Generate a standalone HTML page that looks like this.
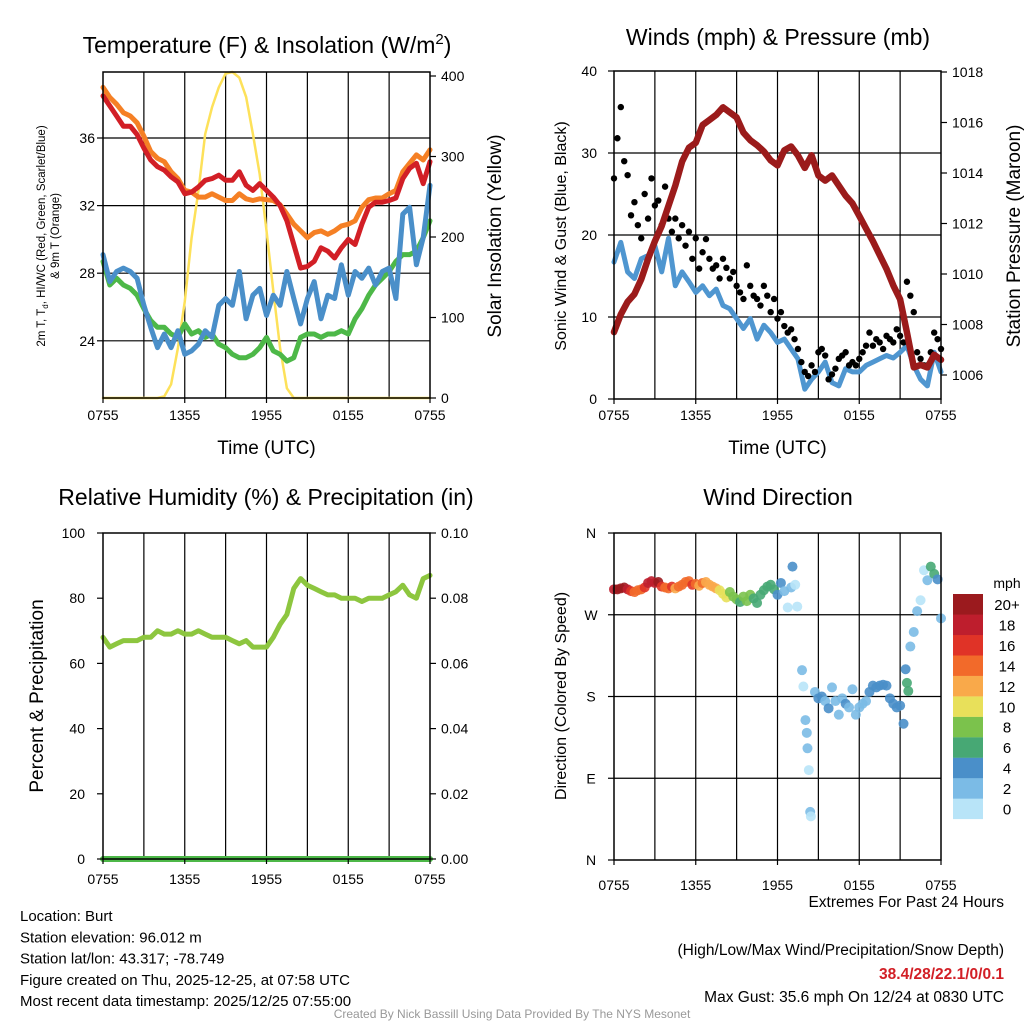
<!DOCTYPE html>
<html><head><meta charset="utf-8"><style>
html,body{margin:0;padding:0;background:#fff;}
svg{display:block;font-family:"Liberation Sans",sans-serif;}
</style></head><body>
<svg id="chart" width="1024" height="1024" viewBox="0 0 1024 1024" xmlns="http://www.w3.org/2000/svg">
<rect x="0" y="0" width="1024" height="1024" fill="#fff"/>
</svg>
<script>
// ---- data (hours since 0755 UTC) ----
const halfHours = [0,0.5,1,1.5,2,2.5,3,3.5,4,4.5,5,5.5,6,6.5,7,7.5,8,8.5,9,9.5,10,10.5,11,11.5,12,12.5,13,13.5,14,14.5,15,15.5,16,16.5,17,17.5,18,18.5,19,19.5,20,20.5,21,21.5,22,22.5,23,23.5,24];
const tempRed = [38.5,37.9,37.3,36.7,36.7,36.2,35.4,34.7,34.3,34.1,33.7,33.4,32.7,32.8,33.1,33.5,33.6,33.8,33.5,33.5,34.0,33.2,32.9,33.3,32.9,32.5,32.0,31.1,29.7,28.3,28.4,28.7,29.5,29.3,28.9,29.5,30.0,29.7,30.9,31.9,32.2,32.2,32.3,32.45,33.6,34.2,34.5,33.3,34.6];
const tempOrange = [39.0,38.4,38.0,37.5,37.3,36.9,36.1,35.2,34.8,34.6,34.0,33.6,32.9,32.8,32.5,32.5,32.7,32.5,32.3,32.3,32.7,32.4,32.3,32.4,32.35,32.3,32.05,31.5,30.9,30.5,30.1,30.4,30.5,30.3,30.5,30.8,30.9,31.1,31.9,32.35,32.45,32.45,32.7,32.9,34.0,34.5,35.0,34.7,35.3];
const tempBlue = [29.1,27.5,28.1,28.3,28.1,27.7,26.1,24.8,23.6,24.4,23.6,24.6,23.2,23.4,23.8,24.6,24.2,26.1,26.5,26.1,28.1,25.3,26.7,27.1,25.5,26.7,26.1,28.1,26.5,25.0,26.5,27.5,25.3,26.7,26.5,28.5,26.7,28.1,27.7,28.3,27.3,28.1,28.3,26.5,31.5,31.9,28.5,30.1,33.2];
const tempGreen = [28.7,27.3,27.7,27.3,27.1,26.7,25.9,25.2,24.8,24.8,24.4,24.2,25.0,24.4,24.6,24.2,24.4,23.8,23.6,23.2,23.0,23.0,23.2,23.6,24.2,23.4,23.2,22.8,23.0,24.2,24.4,24.4,24.2,24.4,24.4,24.6,24.4,25.3,25.9,26.7,27.3,27.7,28.1,28.7,29.1,29.1,29.3,30.1,31.1];
const solar = [0,0,0,0,0,0,0,0,0,2,17,62,120,199,257,328,361,386,403,405,398,374,328,278,208,133,62,12,0,0,0,0,0,0,0,0,0,0,0,0,0,0,0,0,0,0,0,0,0];
const pressure = [1007.7,1008.4,1008.9,1009.2,1009.8,1010.6,1011.3,1011.9,1012.7,1013.5,1014.45,1015.0,1015.2,1015.9,1016.1,1016.3,1016.6,1016.4,1016.2,1015.6,1015.3,1015.1,1014.85,1014.5,1014.3,1014.9,1015.05,1014.7,1014.2,1014.7,1013.9,1013.7,1013.9,1013.5,1013.1,1012.8,1012.3,1011.8,1011.3,1010.75,1010.2,1009.55,1009.0,1007.7,1006.3,1006.4,1006.3,1006.8,1006.6];
const sonicWind = [16.7,19.1,15.5,14.7,17.1,17.5,18.7,15.5,19.6,13.8,15.5,14.3,13.0,13.8,12.6,13.4,11.4,11.0,9.8,8.6,9.8,7.3,9.0,8.1,6.9,7.3,6.1,4.9,1.2,2.4,3.3,4.5,2.0,1.6,3.7,3.3,3.3,4.1,4.5,4.9,5.3,5.0,5.7,6.5,4.1,2.4,1.6,5.7,3.3];
const gustStep = 0.25;
const gust = [26.9,31.8,35.6,29.0,27.3,
22.4,24.0,21.2,19.6,25.0,22.0,26.9,
23.6,24.2,21.2,25.9,22.0,20.4,22.0,19.6,
21.2,18.7,20.4,17.1,19.6,15.9,17.9,19.5,
17.1,15.9,16.3,14.7,17.1,16.0,14.7,15.5,
13.8,13.0,12.2,16.3,13.8,12.6,12.2,11.4,
13.8,12.6,10.6,12.2,9.8,10.6,8.9,8.1,
8.5,7.3,6.1,4.5,3.3,2.8,4.1,3.3,
5.7,6.1,5.3,2.4,3.0,3.7,4.9,5.3,
5.7,4.1,4.5,4.1,4.9,5.7,6.5,8.1,
6.5,7.3,6.9,6.1,7.7,7.3,6.9,8.5,
7.7,6.9,14.3,12.6,10.6,5.7,4.9,4.1,
4.1,5.7,8.1,7.3,6.1];
const humidity = [68,65,66,67,67,67,68,68,70,69,69,70,69,69,70,69,68,68,68,67,66,67,65,65,65,68,72,75,83,86,84,83,82,81,81,80,80,80,79,80,80,80,81,82,84,81,80,86,87];
const precip = [0,0,0,0,0,0,0,0,0,0,0,0,0,0,0,0,0,0,0,0,0,0,0,0,0,0,0,0,0,0,0,0,0,0,0,0,0,0,0,0,0,0,0,0,0,0,0,0,0];
const dirHours = [0,0.25,0.5,0.75,1,1.25,1.5,1.75,2,2.25,2.5,2.75,3,3.25,3.5,3.75,4,4.25,4.5,4.75,5,5.25,5.5,5.75,6,6.25,6.5,6.75,7,7.25,7.5,7.75,8,8.25,8.5,8.75,9,9.25,9.5,9.75,10,10.25,10.5,10.75,11,11.25,11.5,11.75,12,12.25,12.5,12.75,13,13.1,13.3,13.45,13.8,13.9,14.05,14.15,14.2,14.3,14.4,14.45,14.75,15,15.25,15.5,15.75,16,16.25,16.5,16.75,17,17.25,17.5,17.75,18,18.25,18.5,18.75,19,19.25,19.5,19.75,20,20.25,20.5,20.75,21,21.25,21.4,21.5,21.6,21.75,22,22.25,22.5,22.75,23,23.25,23.5,23.75,24];
const dirDeg = [298,298,299,300,298,296,295,297,298,300,305,307,305,306,301,300,299,301,299,301,303,306,307,303,304,302,305,306,303,301,299,297,293,289,295,290,287,284,290,285,292,288,283,292,297,301,303,298,292,305,296,278,300,323,303,279,209,191,154,140,123,99,53,48,185,178,180,175,167,190,175,160,178,172,168,188,160,168,172,175,185,192,190,192,193,192,178,172,168,170,150,210,195,186,235,251,274,286,319,308,323,315,309,266];
const dirSpeed = [19,20,21,21,18,16,14,14,14,16,18,19,18,20,17,15,14,16,13,14,15,15,14,17,15,13,14,12,12,12,12,11,10,10,9,8,8,7,8,8,9,7,6,7,7,6,6,6,5,4,3,1,2,4,1,1,2,1,2,2,2,1,2,1,3,4,4,3,4,2,3,2,2,4,3,2,3,2,2,3,4,4,4,4,4,4,4,4,4,4,4,4,6,6,2,2,2,1,1,2,6,6,4,2];
const speedBins = ["0","2","4","6","8","10","12","14","16","18","20+"];
const timeTicks = ["0755","1355","1955","0155","0755"];
const tempTicks = [24,28,32,36];
const solarTicks = [0,100,200,300,400];
const windTicks = [0,10,20,30,40];
const pressTicks = [1006,1008,1010,1012,1014,1016,1018];
const rhTicks = [0,20,40,60,80,100];
const prTicks = ["0.00","0.02","0.04","0.06","0.08","0.10"];
const dirTicks = ["N","E","S","W","N"];

const binColors = ["#b8e4f8","#7bbbe6","#4a8fc9","#47a874","#7bc24c","#e8e05a","#f9a94a","#f26a2a","#e03327","#be1e2d","#9b1a1e"];

const NS = "http://www.w3.org/2000/svg";
const svg = document.getElementById("chart");
function el(tag, attrs, parent){
  const e = document.createElementNS(NS, tag);
  for (const k in attrs) e.setAttribute(k, attrs[k]);
  (parent||svg).appendChild(e);
  return e;
}
function txt(x,y,s,size,anchor,parent,extra){
  const t = el("text",Object.assign({x:x,y:y,"font-size":size,"text-anchor":anchor||"start",fill:"#000"},extra||{}),parent);
  t.textContent = s;
  return t;
}
function xScale(p){ return h => p.x0 + h/24*(p.x1-p.x0); }

const P1={x0:103,x1:430,y0:72,y1:398};
const P2={x0:614,x1:941,y0:71,y1:399};
const P3={x0:103,x1:430,y0:533,y1:859};
const P4={x0:614,x1:941,y0:533,y1:860};
const yT = v => 138 + (36-v)*16.9;
const yS = v => 398 - v*0.805;
const yW = v => 399 - v*8.2;
const yP = p => 375 - (p-1006)*25.25;
const yRH = v => 859 - v*3.26;
const yPR = v => 859 - v*3260;
const yD = d => 860 - d*0.9083;

function frame(p, name, hlines){
  const g = el("g",{});
  
  
  const xs = xScale(p);
  for(let h=3;h<24;h+=3){
    const l = el("line",{x1:xs(h),x2:xs(h),y1:p.y0,y2:p.y1,stroke:"#000","stroke-width":1.2},g);
    
    
  }
  hlines.forEach(y=>{
    const l = el("line",{x1:p.x0,x2:p.x1,y1:y,y2:y,stroke:"#000","stroke-width":1.2},g);
    
    
  });
  return g;
}
function border(p,name){
  const r = el("rect",{x:p.x0,y:p.y0,width:p.x1-p.x0,height:p.y1-p.y0,fill:"none",stroke:"#000","stroke-width":1.5});
  
  
}
function xAxis(p,name,labelY,title){
  const g = el("g",{});
  
  
  const xs = xScale(p);
  timeTicks.forEach((s,i)=>{
    el("line",{x1:xs(i*6),x2:xs(i*6),y1:p.y1,y2:p.y1+5,stroke:"#000","stroke-width":1.2},g);
    const t = txt(xs(i*6),labelY,s,14,"middle",g);
    
    
  });
  if(title){
    const t = txt((p.x0+p.x1)/2,labelY+34,title,19,"middle",g);
    
    
  }
}
function yTicks(vals, labels, yf, x, anchor, tickX, dir, name){
  const g = el("g",{});
  
  
  vals.forEach((v,i)=>{
    const y = yf(v);
    el("line",{x1:tickX,x2:tickX+dir*6,y1:y,y2:y,stroke:"#000","stroke-width":1.2},g);
    const t = txt(x,y+5,labels[i],14,anchor,g);
    
    
  });
}
function line(xs, ys, p, yf, color, w, name){
  const d = xs.map((h,i)=>(i?"L":"M")+xScale(p)(h).toFixed(1)+","+yf(ys[i]).toFixed(1)).join(" ");
  const path = el("path",{d:d,fill:"none",stroke:color,"stroke-width":w,"stroke-linejoin":"round","stroke-linecap":"round"});
  
  
}
function rotText(x,y,s,size,name){
  const t = txt(0,0,s,size,"middle",null,{transform:"translate("+x+","+y+") rotate(-90)"});
  
  
  return t;
}
function title(x,y,s,name){
  const t = txt(x,y,s,23,"middle");
  
  
  return t;
}

// ===== Panel 1: Temperature =====
frame(P1,"temperature",tempTicks.map(yT));
line(halfHours, solar, P1, yS, "#fde15a", 2.5, "solar-insolation-line");
line(halfHours, tempGreen, P1, yT, "#4db848", 5, "dewpoint-line");
line(halfHours, tempBlue, P1, yT, "#4a8fc9", 5, "wind-chill-line");
line(halfHours, tempOrange, P1, yT, "#f58025", 5, "temp-9m-line");
line(halfHours, tempRed, P1, yT, "#d21f26", 5, "temp-2m-line");
border(P1,"temperature");
xAxis(P1,"temperature",420,"Time (UTC)");
yTicks(tempTicks, tempTicks.map(String), yT, 95, "end", P1.x0, -1, "temperature-y-axis");
yTicks(solarTicks, solarTicks.map(String), yS, 441, "start", P1.x1, 1, "solar-y-axis");
const t1 = title(267,53,"","temperature-title");
t1.innerHTML = 'Temperature (F) &amp; Insolation (W/m<tspan font-size="15" dy="-9">2</tspan><tspan dy="9">)</tspan>';
const yl1 = rotText(45,236,"",11.5,"temperature-y-axis-title");
yl1.innerHTML = '2m T, T<tspan font-size="8" dy="3">d</tspan><tspan dy="-3">, HI/WC (Red, Green, Scarlet/Blue)</tspan>';
rotText(59,236,"& 9m T (Orange)",11.5,"temperature-y-axis-title-2");
rotText(501,236,"Solar Insolation (Yellow)",19,"solar-y-axis-title");

// ===== Panel 2: Winds =====
frame(P2,"winds",windTicks.slice(1,4).map(yW));
line(halfHours, sonicWind, P2, yW, "#4f96d0", 5, "sonic-wind-line");
const gg = el("g",{});


gust.forEach((v,i)=>{
  const c = el("circle",{cx:xScale(P2)(i*gustStep),cy:yW(v),r:3.2,fill:"#000"},gg);
  
  
});
line(halfHours, pressure, P2, yP, "#9b1b1b", 6.5, "pressure-line");
border(P2,"winds");
xAxis(P2,"winds",420,"Time (UTC)");
yTicks(windTicks, windTicks.map(String), yW, 597, "end", P2.x0, -1, "wind-y-axis");
yTicks(pressTicks, pressTicks.map(String), yP, 952, "start", P2.x1, 1, "pressure-y-axis");
title(778,45,"Winds (mph) & Pressure (mb)","winds-title");
rotText(566,236,"Sonic Wind & Gust (Blue, Black)",16,"wind-y-axis-title");
rotText(1020,236,"Station Pressure (Maroon)",19,"pressure-y-axis-title");

// ===== Panel 3: Humidity =====
frame(P3,"humidity",[]);
line(halfHours, precip, P3, yPR, "#4db848", 6, "precipitation-line");
line(halfHours, humidity, P3, yRH, "#8dc63f", 5, "humidity-line");
border(P3,"humidity");
xAxis(P3,"humidity",884,null);
yTicks(rhTicks, rhTicks.map(String), yRH, 85, "end", P3.x0, -1, "humidity-y-axis");
yTicks(rhTicks, prTicks, yRH, 441, "start", P3.x1, 1, "precip-y-axis");
title(266,505,"Relative Humidity (%) & Precipitation (in)","humidity-title");
rotText(43,696,"Percent & Precipitation",19,"humidity-y-axis-title");

// ===== Panel 4: Wind direction =====
frame(P4,"direction",[90,180,270].map(yD));
const dg = el("g",{});


dirHours.forEach((h,i)=>{
  const b = Math.min(10, Math.floor(dirSpeed[i]/2));
  const c = el("circle",{cx:xScale(P4)(h),cy:yD(dirDeg[i]),r:5,fill:binColors[b],"fill-opacity":0.9},dg);
  
  
});
border(P4,"direction");
xAxis(P4,"direction",890,null);
yTicks([0,90,180,270,360], dirTicks, yD, 591, "middle", P4.x0, -1, "direction-y-axis");
title(778,505,"Wind Direction","direction-title");
rotText(566,696,"Direction (Colored By Speed)",16,"direction-y-axis-title");

// colorbar
const cb = el("g",{});


const lab = txt(1007,588,"mph",14,"middle",cb);


speedBins.forEach((s,i)=>{
  const y = 594 + (10-i)*20.45;
  const r = el("rect",{x:953,y:y,width:30,height:20.6,fill:binColors[i]},cb);
  
  
  const t = txt(1007,y+16,s,15,"middle",cb);
  
  
});

// ===== Footer text =====
const info = ["Location: Burt","Station elevation: 96.012 m","Station lat/lon: 43.317; -78.749","Figure created on Thu, 2025-12-25, at 07:58 UTC","Most recent data timestamp: 2025/12/25 07:55:00"];
const ig = el("g",{});


info.forEach((s,i)=>{ txt(20,921+i*21.3,s,15,"start",ig); });
const eg = el("g",{});


txt(1004,907,"Extremes For Past 24 Hours",15.5,"end",eg);
txt(1004,955,"(High/Low/Max Wind/Precipitation/Snow Depth)",15.5,"end",eg);
txt(1004,979,"38.4/28/22.1/0/0.1",15.5,"end",eg,{fill:"#d21f26","font-weight":"bold"});
txt(1004,1002,"Max Gust: 35.6 mph On 12/24 at 0830 UTC",15.5,"end",eg);
const cr = txt(512,1018,"Created By Nick Bassill Using Data Provided By The NYS Mesonet",12,"middle",null,{fill:"#999"});


</script>
</body></html>
